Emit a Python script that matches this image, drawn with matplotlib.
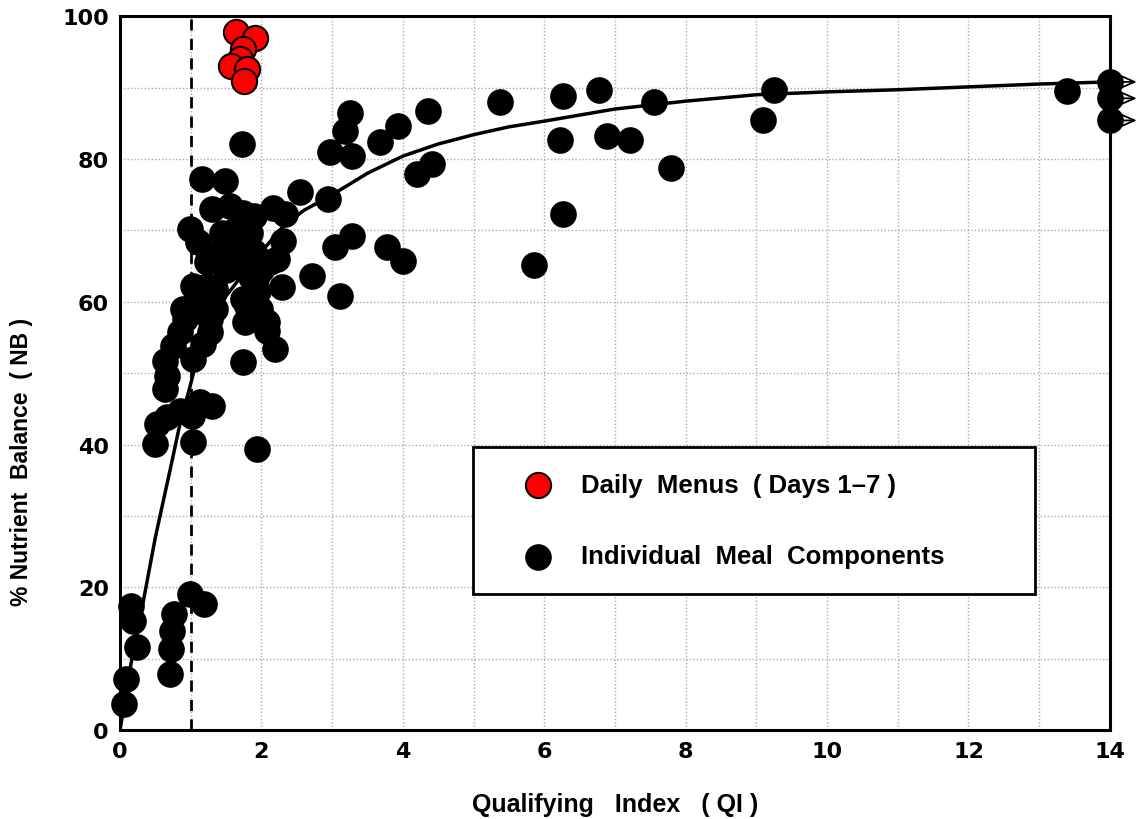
import matplotlib.pyplot as plt
import numpy as np

plt.rcParams['font.family'] = ['Liberation Sans', 'DejaVu Sans']
plt.rcParams['font.weight'] = 'bold'

# daily menus (red)
menu_x = [1.64, 1.91, 1.74, 1.70, 1.57, 1.80, 1.75]
menu_y = [97.8, 97.0, 95.4, 94.0, 93.0, 92.6, 90.9]

# individual meal components (black)
meal_x = [0.06, 0.08, 0.16, 0.18, 0.24,
          0.71, 0.72, 0.74, 0.76, 0.99, 1.19,
          0.50, 0.52, 0.66, 0.85, 1.02, 1.13, 1.30, 1.03, 1.94,
          0.64, 0.66, 0.64, 0.75, 0.85, 0.92, 0.96, 1.03,
          1.17, 1.27, 1.27, 1.34, 1.74, 1.77, 1.80, 2.08, 2.19, 1.98,
          1.16, 1.49, 1.30, 1.56, 1.74, 0.99, 1.10, 1.23, 1.44, 1.56, 1.74, 1.84,
          2.16, 2.33, 2.55, 2.94, 2.31, 2.22, 2.72, 2.29, 1.94, 1.03, 1.23, 1.34,
          0.89, 1.74, 1.84, 2.08, 2.12, 1.63, 1.90, 2.00, 1.50, 1.40, 1.62, 1.95,
          1.85, 1.15, 1.20, 1.90,
          1.72, 3.25, 3.18, 2.97, 3.28, 3.68, 3.93, 4.36, 4.20, 4.41,
          3.04, 3.28, 3.78, 4.00, 3.11,
          5.37, 6.27, 6.78, 7.55, 9.25, 9.09, 6.23, 6.89, 7.22, 7.79, 6.27, 5.86,
          13.4, 14.0, 14.0, 14.0]
meal_y = [3.6, 7.1, 17.4, 15.3, 11.6,
          7.8, 11.3, 13.9, 16.2, 19.0, 17.6,
          40.1, 42.9, 43.8, 44.7, 44.0, 45.9, 45.4, 40.3, 39.4,
          47.8, 49.6, 51.7, 53.8, 55.7, 57.6, 59.0, 52.0,
          54.1, 55.7, 57.6, 59.0, 51.5, 57.1, 59.4, 55.9, 53.4, 59.0,
          77.2, 76.9, 73.0, 73.4, 72.5, 70.2, 68.3, 65.5, 69.7, 67.8, 66.0, 69.7,
          73.2, 72.3, 75.4, 74.4, 68.5, 66.0, 63.6, 62.0, 63.6, 62.2, 62.2, 61.8,
          59.0, 60.4, 59.4, 57.1, 65.5, 70.0, 67.0, 64.5, 64.5, 67.0, 65.0, 61.5,
          63.5, 60.0, 58.5, 72.0,
          82.1, 86.5, 83.9, 81.0, 80.4, 82.4, 84.6, 86.7, 77.9, 79.3,
          67.6, 69.2, 67.6, 65.7, 60.8,
          88.0, 88.8, 89.6, 88.0, 89.6, 85.4, 82.6, 83.2, 82.6, 78.7, 72.3, 65.1,
          89.5, 90.8, 88.5, 85.4]

# fitted curve
fit_x = [0, 0.05, 0.15, 0.31, 0.5, 0.61, 0.71, 0.85, 1.0, 1.1, 1.3, 1.5, 1.75,
         2.0, 2.31, 2.6, 2.97, 3.5, 4.0, 4.5, 5.0, 5.5, 6.0, 7.0, 8.0, 9.0,
         10.0, 11.0, 12.0, 13.0, 14.0]
fit_y = [0, 3, 9, 17, 27, 32, 36.5, 43, 48.5, 52.4, 57, 60.8, 64,
         67, 70.6, 72.8, 74.8, 78, 80.4, 82.1, 83.4, 84.5, 85.3, 87.0, 88.1, 89.0,
         89.4, 89.7, 90.1, 90.5, 90.8]

# off-scale points at QI = 14
arrow_y = [90.8, 88.5, 85.4]

fig = plt.figure(figsize=(11.43, 8.2), dpi=100)
ax = fig.add_axes([0.105, 0.1085, 0.866, 0.8705])

ax.set_xlim(0, 14)
ax.set_ylim(0, 100)
ax.set_xticks(range(0, 15, 2))
ax.set_xticks(range(0, 15), minor=True)
ax.set_yticks(range(0, 101, 20))
ax.set_yticks(range(0, 101, 10), minor=True)
ax.grid(True, which='both', color='#aaaaaa', linestyle=(0, (1, 1.5)), linewidth=1)
ax.set_axisbelow(True)
ax.tick_params(which='both', length=0, labelsize=16, pad=8)
for lab in ax.get_xticklabels() + ax.get_yticklabels():
    lab.set_fontfamily('DejaVu Sans')
    lab.set_fontweight('bold')
for s in ax.spines.values():
    s.set_linewidth(2.2)

ax.axvline(1, color='black', linestyle=(0, (4, 3)), linewidth=2, zorder=2)
ax.plot(fit_x, fit_y, color='black', linewidth=2.5, zorder=3)

ax.scatter(meal_x, meal_y, s=330, color='black', edgecolor='black', linewidth=1,
           zorder=4, clip_on=False, label='Individual  Meal  Components')
ax.scatter(menu_x, menu_y, s=330, color='red', edgecolor='black', linewidth=1.5,
           zorder=5, clip_on=False, label='Daily  Menus  ( Days 1\u20137 )')

for y in arrow_y:
    ax.annotate('', xy=(14.42, y), xytext=(14.0, y),
                arrowprops=dict(arrowstyle='->,head_length=0.8,head_width=0.35',
                                mutation_scale=20, lw=1.3, color='black'),
                annotation_clip=False, zorder=6)

h, l = ax.get_legend_handles_labels()
leg = ax.legend(h[::-1], l[::-1], loc='lower left',
                bbox_to_anchor=(0.357, 0.1905, 0.567, 0.203), mode='expand',
                fontsize=18.5, frameon=True, fancybox=False, framealpha=1,
                edgecolor='black', borderpad=1.0, labelspacing=1.85,
                handletextpad=0.2, borderaxespad=0, scatterpoints=1,
                handlelength=3.0)
leg.get_frame().set_linewidth(2)
for t in leg.get_texts():
    t.set_fontweight('bold')

ax.set_xlabel('Qualifying   Index   ( QI )', fontsize=18, fontweight='bold', labelpad=22)
ax.set_ylabel('% Nutrient  Balance  ( NB )', fontsize=16.5, fontweight='bold')
ax.yaxis.set_label_coords(-0.088, 0.377)

fig.savefig('out.png', dpi=100)
